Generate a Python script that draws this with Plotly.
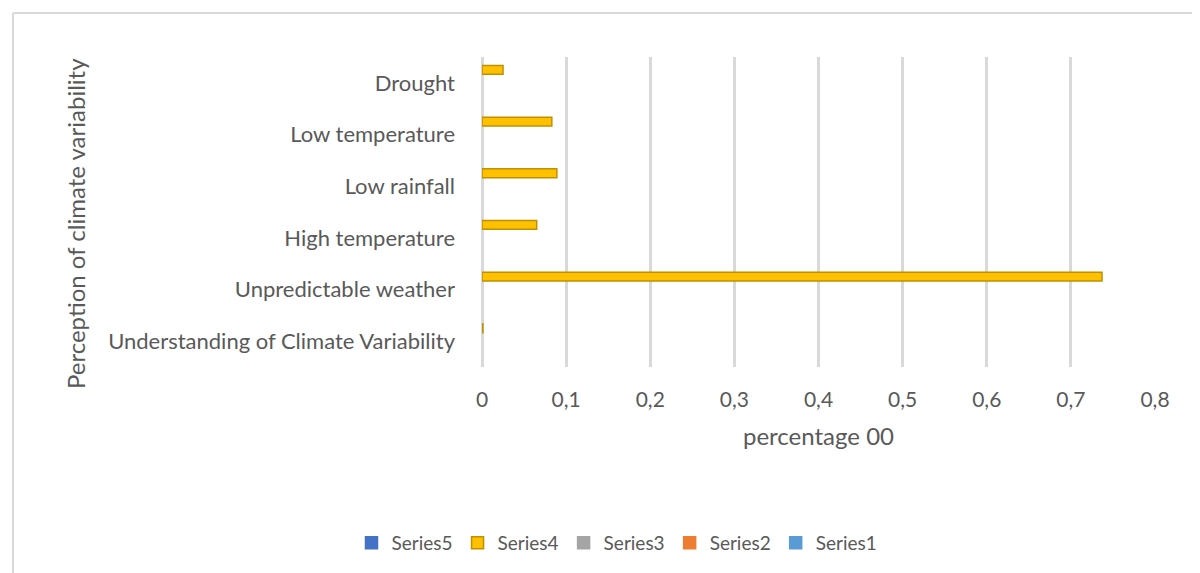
import plotly.graph_objects as go

categories = ["Drought", "Low temperature", "Low rainfall", "High temperature",
              "Unpredictable weather", "Understanding of Climate Variability"]
series4 = [0.025, 0.083, 0.089, 0.065, 0.737, 0.001]
series_names = ["Series5", "Series4", "Series3", "Series2", "Series1"]
series_colors = ["#4472C4", "#FFC000", "#A5A5A5", "#ED7D31", "#5B9BD5"]
tick_vals = [0, 0.1, 0.2, 0.3, 0.4, 0.5, 0.6, 0.7, 0.8]
tick_text = ["0", "0,1", "0,2", "0,3", "0,4", "0,5", "0,6", "0,7", "0,8"]

FONT = "Lato"
TXT = "#595959"

fig = go.Figure()
for name, color in zip(series_names, series_colors):
    if name == "Series4":
        xs = series4
    else:
        xs = [None] * len(categories)
    fig.add_trace(go.Bar(
        x=xs, y=categories, orientation="h", name=name,
        marker=dict(color=color, line=dict(color="#BF9000" if name == "Series4" else color, width=1.5)),
        width=0.17, offset=-0.335,
    ))

W, H = 1200, 573
PAGE = 8  # body offset of the page
ml, mr, mt, mb = 482 - PAGE, W - (1155 - PAGE), 57 - PAGE, H - (367 - PAGE)
pw, ph = W - ml - mr, H - mt - mb
bx = (13 - PAGE - ml) / pw
by = 1 + (mt - (13 - PAGE)) / ph

fig.update_layout(
    width=W, height=H,
    margin=dict(l=ml, r=mr, t=mt, b=mb),
    paper_bgcolor="white", plot_bgcolor="white",
    font=dict(family=FONT, color=TXT, size=22),
    barmode="overlay",
    showlegend=True,
    legend=dict(orientation="h", xref="container", yref="container",
                x=(617 - PAGE) / W, xanchor="center", y=1 - (543 - PAGE) / H, yanchor="middle",
                font=dict(size=19, color=TXT), itemwidth=30,
                traceorder="normal"),
    xaxis=dict(range=[0, 0.8], tickvals=tick_vals, ticktext=tick_text,
               showgrid=True, gridcolor="#D9D9D9", gridwidth=2.5,
               zeroline=True, zerolinecolor="#D9D9D9", zerolinewidth=2.5,
               showline=False, ticks="", ticklabelstandoff=18,
               tickfont=dict(size=21, color=TXT),
               title=dict(text="percentage 00", font=dict(size=24, color=TXT), standoff=18)),
    yaxis=dict(categoryorder="array", categoryarray=categories, autorange="reversed",
               showgrid=False, showline=False, ticks="", ticklabelstandoff=26,
               tickfont=dict(size=22, color=TXT)),
    annotations=[
        dict(text="Perception of climate variability", textangle=-90,
             xref="paper", yref="paper",
             x=(75 - PAGE - ml) / pw, y=1 - (224 - 57) / ph,
             xanchor="center", yanchor="middle", showarrow=False,
             font=dict(size=24, color=TXT)),
    ],
    shapes=[
        dict(type="line", xref="paper", yref="paper",
             x0=bx, x1=(W + 10 - ml) / pw, y0=by, y1=by,
             line=dict(color="#D9D9D9", width=2)),
        dict(type="line", xref="paper", yref="paper",
             x0=bx, x1=bx, y0=by, y1=-(mb + 10) / ph,
             line=dict(color="#D9D9D9", width=2)),
    ],
)

fig.write_html("out.html")
